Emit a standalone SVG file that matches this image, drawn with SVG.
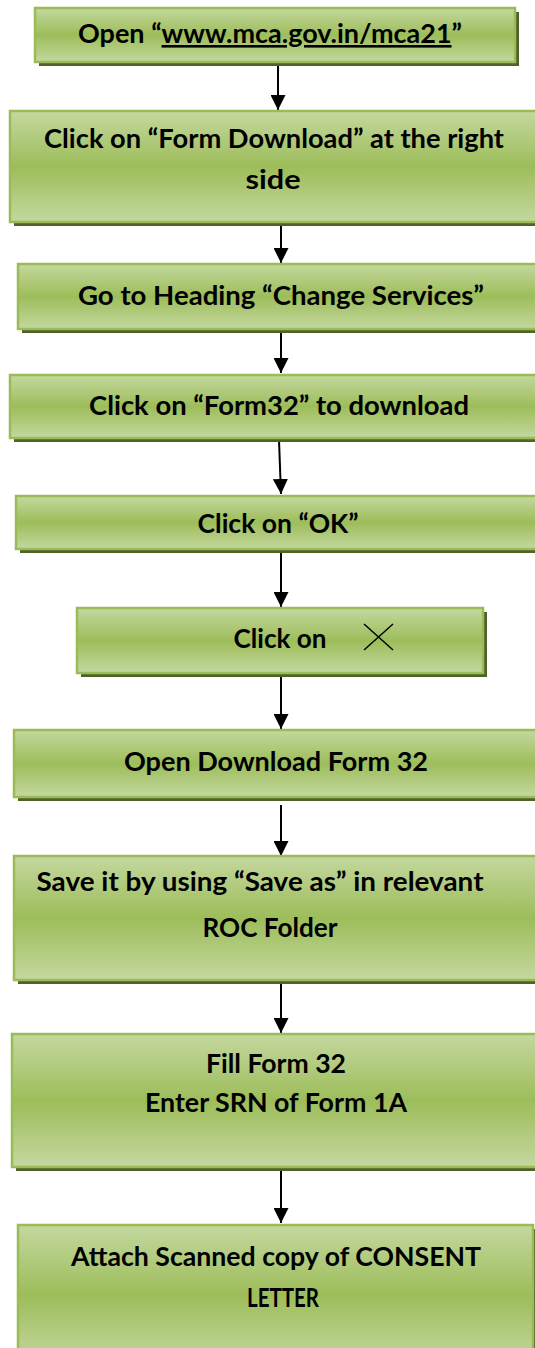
<svg xmlns="http://www.w3.org/2000/svg" width="535" height="1348" viewBox="0 0 535 1348">
<defs>
<linearGradient id="g" x1="0" y1="0" x2="0" y2="1">
<stop offset="0" stop-color="#c4d89f"/>
<stop offset="0.5" stop-color="#9dbd5a"/>
<stop offset="1" stop-color="#c4d89f"/>
</linearGradient>
<marker id="ah" viewBox="0 0 10 10" refX="10" refY="5" markerWidth="15" markerHeight="15" markerUnits="userSpaceOnUse" orient="auto">
<path d="M0,0 L10,5 L0,10 z" fill="#000"/>
</marker>
<style>
.sh{fill:#4f6228}
.bx{fill:url(#g);stroke:#9bbb59;stroke-width:2.5}
.t{font-family:Lato,"Open Sans","Liberation Sans",sans-serif;font-weight:bold;font-size:26px;fill:#000;text-anchor:middle}
.c{stroke:#000;stroke-width:2;fill:none;marker-end:url(#ah)}
</style>
</defs>
<rect width="535" height="1348" fill="#fff"/>

<g id="connectors">
<line class="c" x1="278" y1="63" x2="278" y2="110"/>
<line class="c" x1="281" y1="223" x2="281" y2="263"/>
<line class="c" x1="281" y1="331" x2="281" y2="373"/>
<line class="c" x1="279" y1="440" x2="281" y2="494"/>
<line class="c" x1="281" y1="551" x2="281" y2="607"/>
<line class="c" x1="281" y1="674" x2="281" y2="729"/>
<line class="c" x1="281" y1="805" x2="281" y2="856"/>
<line class="c" x1="281" y1="981" x2="281" y2="1033"/>
<line class="c" x1="281" y1="1167" x2="281" y2="1223"/>
</g>

<g id="n1">
<rect class="sh" x="39" y="12" width="480" height="54"/>
<rect class="bx" x="35" y="8" width="480" height="54"/>
<text class="t" x="270" y="43" textLength="384" lengthAdjust="spacingAndGlyphs">Open “<tspan style="text-decoration:underline">www.mca.gov.in/mca21</tspan>”</text>
</g>

<g id="n2">
<rect class="sh" x="14" y="115" width="540" height="111"/>
<rect class="bx" x="10" y="111" width="540" height="111"/>
<text class="t" x="274" y="148" textLength="460" lengthAdjust="spacingAndGlyphs">Click on “Form Download” at the right</text>
<text class="t" x="273" y="189" textLength="55" lengthAdjust="spacingAndGlyphs">side</text>
</g>

<g id="n3">
<rect class="sh" x="22" y="268" width="540" height="65"/>
<rect class="bx" x="18" y="264" width="540" height="65"/>
<text class="t" x="281" y="305" textLength="406" lengthAdjust="spacingAndGlyphs">Go to Heading “Change Services”</text>
</g>

<g id="n4">
<rect class="sh" x="14" y="379" width="540" height="63"/>
<rect class="bx" x="10" y="375" width="540" height="63"/>
<text class="t" x="279" y="415" textLength="380" lengthAdjust="spacingAndGlyphs">Click on “Form32” to download</text>
</g>

<g id="n5">
<rect class="sh" x="20" y="500" width="540" height="53"/>
<rect class="bx" x="16" y="496" width="540" height="53"/>
<text class="t" x="278" y="533" textLength="161" lengthAdjust="spacingAndGlyphs">Click on “OK”</text>
</g>

<g id="n6">
<rect class="sh" x="81" y="612" width="406" height="65"/>
<rect class="bx" x="77" y="608" width="406" height="65"/>
<text class="t" x="280" y="648" textLength="93" lengthAdjust="spacingAndGlyphs">Click on</text>
<path d="M364,624 L393,650 M364,650 L393,624" stroke="#000" stroke-width="1.5" fill="none"/>
</g>

<g id="n7">
<rect class="sh" x="18" y="734" width="540" height="67"/>
<rect class="bx" x="14" y="730" width="540" height="67"/>
<text class="t" x="276" y="771" textLength="304" lengthAdjust="spacingAndGlyphs">Open Download Form 32</text>
</g>

<g id="n8">
<rect class="sh" x="18" y="860" width="540" height="124"/>
<rect class="bx" x="14" y="856" width="540" height="124"/>
<text class="t" x="260" y="891" textLength="447" lengthAdjust="spacingAndGlyphs">Save it by using “Save as” in relevant</text>
<text class="t" x="270" y="937" textLength="135" lengthAdjust="spacingAndGlyphs">ROC Folder</text>
</g>

<g id="n9">
<rect class="sh" x="16" y="1038" width="540" height="133"/>
<rect class="bx" x="12" y="1034" width="540" height="133"/>
<text class="t" x="276" y="1073" textLength="140" lengthAdjust="spacingAndGlyphs">Fill Form 32</text>
<text class="t" x="276" y="1112" textLength="262" lengthAdjust="spacingAndGlyphs">Enter SRN of Form 1A</text>
</g>

<g id="n10">
<rect class="sh" x="22" y="1229" width="515" height="140"/>
<rect class="bx" x="18" y="1225" width="515" height="140"/>
<text class="t" x="276" y="1266" textLength="410" lengthAdjust="spacingAndGlyphs">Attach Scanned copy of CONSENT</text>
<text class="t" x="283" y="1307" textLength="72" lengthAdjust="spacingAndGlyphs">LETTER</text>
</g>
</svg>
